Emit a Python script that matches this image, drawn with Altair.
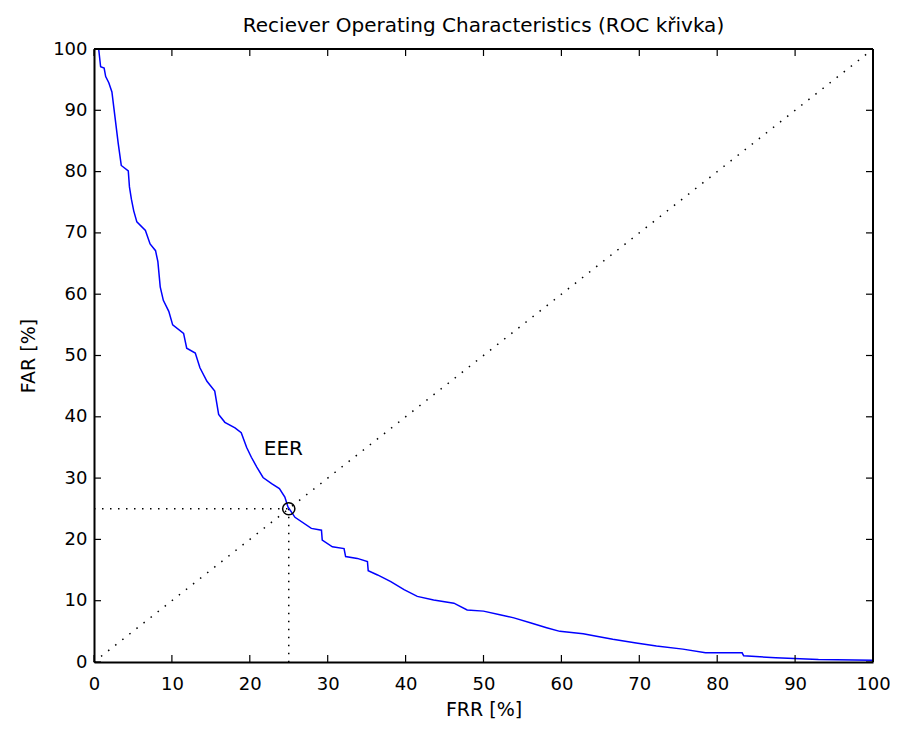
import altair as alt
import pandas as pd

# ROC curve values (FRR %, FAR %)
frr = [0.6, 0.85, 1.3, 1.5, 1.9, 2.3, 2.55, 3.1, 3.5, 4.4, 4.55, 4.8, 5.1, 5.5, 6.6, 7.2, 7.9, 8.2,
       8.5, 8.9, 9.6, 10.1, 11.5, 11.9, 13.0, 13.6, 14.5, 15.5, 16.0, 16.8, 18.1, 18.9, 19.6, 20.2,
       20.9, 21.7, 22.8, 23.8, 24.5, 24.9, 25.8, 27.9, 29.2, 29.3, 30.6, 32.1, 32.3, 33.8, 35.1,
       35.2, 36.4, 38.1, 39.8, 41.5, 43.6, 46.2, 47.9, 50.0, 52.1, 53.9, 56.0, 58.1, 59.8, 62.8,
       64.5, 66.6, 69.6, 72.2, 75.6, 78.5, 83.2, 83.4, 87.5, 93.0, 100.0]
far = [100.0, 97.1, 96.9, 95.5, 94.5, 93.0, 90.4, 84.7, 81.0, 80.1, 77.5, 75.5, 73.6, 71.8, 70.4,
       68.2, 67.1, 65.3, 61.2, 59.0, 57.2, 55.0, 53.6, 51.2, 50.4, 48.0, 45.8, 44.2, 40.4, 39.1,
       38.2, 37.4, 35.0, 33.4, 31.8, 30.1, 29.1, 28.3, 26.9, 25.3, 23.6, 21.8, 21.5, 19.9, 18.8,
       18.5, 17.2, 16.9, 16.4, 14.9, 14.2, 13.1, 11.8, 10.7, 10.1, 9.6, 8.5, 8.3, 7.7, 7.2, 6.4,
       5.6, 5.0, 4.6, 4.2, 3.7, 3.1, 2.6, 2.1, 1.5, 1.5, 1.0, 0.7, 0.4, 0.3]

diag_x = [0, 100]
diag_y = [0, 100]

eer_x = 25
eer_y = 25
guide_seg = ["h", "h", "v", "v"]
guide_x = [0, 25, 25, 25]
guide_y = [25, 25, 25, 0]

ticks = [0, 10, 20, 30, 40, 50, 60, 70, 80, 90, 100]

W, H = 779, 613
FONT = "DejaVu Sans"

xs = alt.Scale(domain=[0, 100], nice=False, zero=False)
ys = alt.Scale(domain=[0, 100], nice=False, zero=False)

curve_df = pd.DataFrame({"FRR": frr, "FAR": far, "order": range(len(frr))})
diag_df = pd.DataFrame({"x": diag_x, "y": diag_y})
guide_df = pd.DataFrame({"seg": guide_seg, "x": guide_x, "y": guide_y})
eer_df = pd.DataFrame({"x": [eer_x], "y": [eer_y], "label": ["EER"]})
tick_df = pd.DataFrame({"t": ticks})

x_axis = alt.Axis(values=ticks, title="FRR [%]", grid=False, domain=True, domainColor="black",
                  domainWidth=2, tickSize=0,
                  labelPadding=13, labelFont=FONT, labelFontSize=18, labelColor="black",
                  titleFont=FONT, titleFontSize=19, titleFontWeight="normal", titleColor="black",
                  titlePadding=7, labelFlush=False)
y_axis = alt.Axis(values=ticks, title="FAR [%]", grid=False, domain=True, domainColor="black",
                  domainWidth=2, tickSize=0,
                  labelPadding=7, labelFont=FONT, labelFontSize=18, labelColor="black",
                  titleFont=FONT, titleFontSize=19, titleFontWeight="normal", titleColor="black",
                  titlePadding=14, labelFlush=False)

diag = alt.Chart(diag_df).mark_line(color="black", strokeWidth=1.5, strokeDash=[1.5, 7.5]).encode(
    x=alt.X("x:Q", scale=xs, axis=x_axis),
    y=alt.Y("y:Q", scale=ys, axis=y_axis),
)

guides = alt.Chart(guide_df).mark_line(color="black", strokeWidth=1.5, strokeDash=[1.5, 6.5]).encode(
    x=alt.X("x:Q", scale=xs),
    y=alt.Y("y:Q", scale=ys),
    detail="seg:N",
)

curve = alt.Chart(curve_df).mark_line(color="#0000FF", strokeWidth=1.5).encode(
    x=alt.X("FRR:Q", scale=xs),
    y=alt.Y("FAR:Q", scale=ys),
    order="order:Q",
)

marker = alt.Chart(eer_df).mark_point(shape="circle", size=150, filled=False, color="black",
                                      strokeWidth=1.5, opacity=1).encode(
    x=alt.X("x:Q", scale=xs),
    y=alt.Y("y:Q", scale=ys),
)

label = alt.Chart(eer_df).mark_text(text="EER", font=FONT, fontSize=20, color="black",
                                    align="left", baseline="middle", dx=-25, dy=-60).encode(
    x=alt.X("x:Q", scale=xs),
    y=alt.Y("y:Q", scale=ys),
)

tick_style = dict(color="black", strokeWidth=1.2)
tick_bottom = alt.Chart(tick_df).mark_rule(**tick_style).encode(
    x=alt.X("t:Q", scale=xs), y=alt.value(H - 7), y2=alt.value(H))
tick_top = alt.Chart(tick_df).mark_rule(**tick_style).encode(
    x=alt.X("t:Q", scale=xs), y=alt.value(0), y2=alt.value(7))
tick_left = alt.Chart(tick_df).mark_rule(**tick_style).encode(
    y=alt.Y("t:Q", scale=ys), x=alt.value(0), x2=alt.value(7))
tick_right = alt.Chart(tick_df).mark_rule(**tick_style).encode(
    y=alt.Y("t:Q", scale=ys), x=alt.value(W - 7), x2=alt.value(W))

# box edges on top and right drawn as rules (pixel-positioned frame, not data)
frame_top = alt.Chart(tick_df).mark_rule(color="black", strokeWidth=2).encode(
    x=alt.value(0), x2=alt.value(W), y=alt.value(0))
frame_right = alt.Chart(tick_df).mark_rule(color="black", strokeWidth=2).encode(
    x=alt.value(W), y=alt.value(0), y2=alt.value(H))

chart = alt.layer(
    diag, guides, curve, marker, label, tick_bottom, tick_top, tick_left, tick_right,
    frame_top, frame_right
).properties(
    width=W,
    height=H,
    title=alt.TitleParams("Reciever Operating Characteristics (ROC křivka)", font=FONT,
                          fontSize=20, fontWeight="normal", color="black", anchor="middle",
                          offset=4),
    autosize=alt.AutoSizeParams(type="none"),
    padding={"left": 86, "top": 41, "right": 17, "bottom": 61},
).configure_view(
    stroke="#000000", strokeWidth=2, strokeOpacity=1
).configure(background="white")

chart.save("out.html", embed_options={"renderer": "svg", "actions": False})
